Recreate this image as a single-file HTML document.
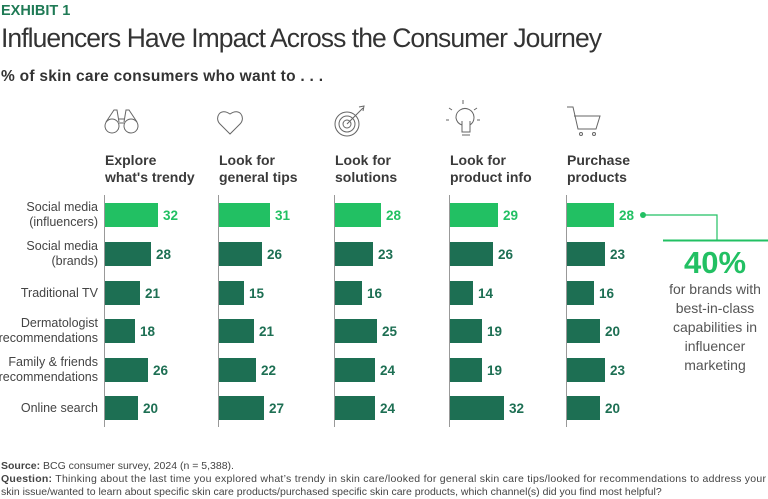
<!DOCTYPE html>
<html><head><meta charset="utf-8"><style>
html,body{margin:0;padding:0;background:#fff;}
svg{display:block;}
text{font-family:"Liberation Sans",sans-serif;}
.lbl{font-size:12.5px;fill:#444;text-anchor:end;}
.hd{font-size:14px;font-weight:bold;fill:#3a3a3a;}
.v{font-size:13.5px;font-weight:bold;fill:#1d6f53;}
.vl{font-size:13.5px;font-weight:bold;fill:#22c063;}
.ft{font-size:10.5px;fill:#444;}
.ic{fill:none;stroke:#666;stroke-width:1;}
</style></head><body>
<svg width="768" height="499" viewBox="0 0 768 499" xmlns="http://www.w3.org/2000/svg">
<text x="1" y="15" style="font-size:14.5px;font-weight:bold;fill:#1f7a55;">EXHIBIT 1</text>
<text x="1" y="47" style="font-size:26.5px;fill:#333;font-weight:300;" textLength="601">Influencers Have Impact Across the Consumer Journey</text>
<text x="1" y="81" style="font-size:15.5px;font-weight:bold;fill:#333;" textLength="322">% of skin care consumers who want to . . .</text>

<!-- icons -->
<g class="ic">
<circle cx="112" cy="126" r="7"/><circle cx="131" cy="126" r="7"/>
<path d="M106 122 L114 110 L117 110 L119 122 M137 122 L129 110 L126 110 L124 122 M119 119 L124 119 M119 123 L124 123"/>
<path d="M230 134 L220 124 C214 118 220 107 230 114 C240 107 246 118 240 124 Z"/>
<circle cx="347" cy="124" r="12"/><circle cx="347" cy="124" r="8"/><circle cx="347" cy="124" r="4"/>
<path d="M347 124 L363 108 M359 107 L364 106 L363 111"/>
<path d="M456 118 a9 9 0 1 1 14 7 l0 7 l-8 0 l0 -7 a9 9 0 0 1 -6 -7 Z M462 135 l8 0 M462 129 l0 -8 m8 8 l0 -8"/>
<path d="M463 104 l0 -4 M452 110 l-3 -2 M474 110 l3 -2 M449 120 l-3 0 M477 120 l3 0"/>
<path d="M567 107 L573 107 L578 129 L596 129 L600 116 L574 116"/>
<circle cx="581" cy="134" r="1.5"/><circle cx="594" cy="134" r="1.5"/>
</g>

<!-- headers -->
<text class="hd" x="105" y="165">Explore</text><text class="hd" x="105" y="182">what's trendy</text>
<text class="hd" x="219" y="165">Look for</text><text class="hd" x="219" y="182">general tips</text>
<text class="hd" x="335" y="165">Look for</text><text class="hd" x="335" y="182">solutions</text>
<text class="hd" x="450" y="165">Look for</text><text class="hd" x="450" y="182">product info</text>
<text class="hd" x="567" y="165">Purchase</text><text class="hd" x="567" y="182">products</text>

<!-- row labels -->
<text class="lbl" x="98" y="211">Social media</text><text class="lbl" x="98" y="226">(influencers)</text>
<text class="lbl" x="98" y="250">Social media</text><text class="lbl" x="98" y="265">(brands)</text>
<text class="lbl" x="98" y="297">Traditional TV</text>
<text class="lbl" x="98" y="327">Dermatologist</text><text class="lbl" x="98" y="342">recommendations</text>
<text class="lbl" x="98" y="366">Family &amp; friends</text><text class="lbl" x="98" y="381">recommendations</text>
<text class="lbl" x="98" y="412">Online search</text>

<g id="bars"></g>
<g stroke="#999" stroke-width="1">
<line x1="104.5" y1="195" x2="104.5" y2="427"/>
<line x1="218.5" y1="195" x2="218.5" y2="427"/>
<line x1="334.5" y1="195" x2="334.5" y2="427"/>
<line x1="449.5" y1="195" x2="449.5" y2="427"/>
<line x1="566.5" y1="195" x2="566.5" y2="427"/>
</g>

<!-- bars generated -->
<g>
<!-- col1 x=105 -->
<rect x="105" y="203" width="53" height="24" fill="#22c063"/><text class="vl" x="163" y="220">32</text>
<rect x="105" y="242" width="46" height="24" fill="#1d6f53"/><text class="v" x="156" y="259">28</text>
<rect x="105" y="281" width="35" height="24" fill="#1d6f53"/><text class="v" x="145" y="298">21</text>
<rect x="105" y="319" width="30" height="24" fill="#1d6f53"/><text class="v" x="140" y="336">18</text>
<rect x="105" y="358" width="43" height="24" fill="#1d6f53"/><text class="v" x="153" y="375">26</text>
<rect x="105" y="396" width="33" height="24" fill="#1d6f53"/><text class="v" x="143" y="413">20</text>
<!-- col2 x=219 -->
<rect x="219" y="203" width="51" height="24" fill="#22c063"/><text class="vl" x="275" y="220">31</text>
<rect x="219" y="242" width="43" height="24" fill="#1d6f53"/><text class="v" x="267" y="259">26</text>
<rect x="219" y="281" width="25" height="24" fill="#1d6f53"/><text class="v" x="249" y="298">15</text>
<rect x="219" y="319" width="35" height="24" fill="#1d6f53"/><text class="v" x="259" y="336">21</text>
<rect x="219" y="358" width="37" height="24" fill="#1d6f53"/><text class="v" x="261" y="375">22</text>
<rect x="219" y="396" width="45" height="24" fill="#1d6f53"/><text class="v" x="269" y="413">27</text>
<!-- col3 x=335 -->
<rect x="335" y="203" width="46" height="24" fill="#22c063"/><text class="vl" x="386" y="220">28</text>
<rect x="335" y="242" width="38" height="24" fill="#1d6f53"/><text class="v" x="378" y="259">23</text>
<rect x="335" y="281" width="27" height="24" fill="#1d6f53"/><text class="v" x="367" y="298">16</text>
<rect x="335" y="319" width="42" height="24" fill="#1d6f53"/><text class="v" x="382" y="336">25</text>
<rect x="335" y="358" width="40" height="24" fill="#1d6f53"/><text class="v" x="380" y="375">24</text>
<rect x="335" y="396" width="40" height="24" fill="#1d6f53"/><text class="v" x="380" y="413">24</text>
<!-- col4 x=450 -->
<rect x="450" y="203" width="48" height="24" fill="#22c063"/><text class="vl" x="503" y="220">29</text>
<rect x="450" y="242" width="43" height="24" fill="#1d6f53"/><text class="v" x="498" y="259">26</text>
<rect x="450" y="281" width="23" height="24" fill="#1d6f53"/><text class="v" x="478" y="298">14</text>
<rect x="450" y="319" width="32" height="24" fill="#1d6f53"/><text class="v" x="487" y="336">19</text>
<rect x="450" y="358" width="32" height="24" fill="#1d6f53"/><text class="v" x="487" y="375">19</text>
<rect x="450" y="396" width="54" height="24" fill="#1d6f53"/><text class="v" x="509" y="413">32</text>
<!-- col5 x=567 -->
<rect x="567" y="203" width="47" height="24" fill="#22c063"/><text class="vl" x="619" y="220">28</text>
<rect x="567" y="242" width="38" height="24" fill="#1d6f53"/><text class="v" x="610" y="259">23</text>
<rect x="567" y="281" width="27" height="24" fill="#1d6f53"/><text class="v" x="599" y="298">16</text>
<rect x="567" y="319" width="33" height="24" fill="#1d6f53"/><text class="v" x="605" y="336">20</text>
<rect x="567" y="358" width="38" height="24" fill="#1d6f53"/><text class="v" x="610" y="375">23</text>
<rect x="567" y="396" width="33" height="24" fill="#1d6f53"/><text class="v" x="605" y="413">20</text>
</g>

<!-- callout -->
<circle cx="643" cy="215" r="3" fill="#22c063"/>
<path d="M643 215 L717 215 L717 240" fill="none" stroke="#22c063" stroke-width="1.2"/>
<line x1="663" y1="240.5" x2="768" y2="240.5" stroke="#22c063" stroke-width="2"/>
<text x="715" y="273" style="font-size:31px;font-weight:bold;fill:#22c063;text-anchor:middle;">40%</text>
<g style="font-size:14px;fill:#555;text-anchor:middle;">
<text x="715" y="294">for brands with</text>
<text x="715" y="313">best-in-class</text>
<text x="715" y="332">capabilities in</text>
<text x="715" y="351">influencer</text>
<text x="715" y="370">marketing</text>
</g>

<!-- footer -->
<text class="ft" x="1" y="469"><tspan font-weight="bold">Source:</tspan> BCG consumer survey, 2024  (n = 5,388).</text>
<text class="ft" x="1" y="482" textLength="765"><tspan font-weight="bold">Question:</tspan> Thinking about the last time you explored what’s trendy in skin care/looked for general skin care tips/looked for recommendations to address your</text>
<text class="ft" x="1" y="495">skin issue/wanted to learn about specific skin care products/purchased specific skin care products, which channel(s) did you find most helpful?</text>
</svg>
</body></html>
